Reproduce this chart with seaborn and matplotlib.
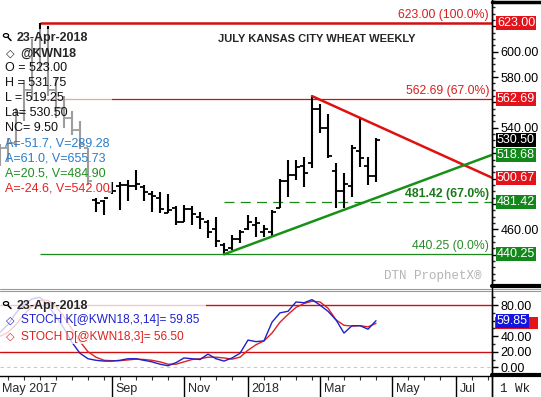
import numpy as np
import pandas as pd
import seaborn as sns
import matplotlib
matplotlib.use("Agg")
import matplotlib.pyplot as plt
from matplotlib.lines import Line2D
from matplotlib.patches import Rectangle, Circle
from matplotlib.ticker import MultipleLocator, FixedLocator, FixedFormatter
import matplotlib.transforms as mtransforms

# ---------------- data (weekly bars, x = weeks since 1-Jan-2018) ----------------
weeks = list(range(-31, 17))
highs = [527, 532, 556, 578, 610, 623, 620, 580, 565, 553, 545, 524,
         485, 483, 497.5, 497.5, 499, 507, 495, 490, 489, 488, 478, 479,
         478, 474, 467, 470, 449, 455.5, 459.5, 471, 470, 463.5, 475, 500,
         514.5, 514.5, 517, 565, 559, 551, 512, 504, 526.5, 547.5, 517, 531.75]
lows = [510, 513, 525, 545, 562, 585, 565, 548, 540, 534, 523, 495,
        474, 471, 488, 475, 482, 491, 482, 474, 473, 472.5, 463.5, 466,
        463.5, 460.5, 453, 446.3, 440.25, 443.7, 449, 459.4, 454, 454, 454, 476.5,
        485.7, 499, 493.6, 508, 535.7, 516, 476.5, 476.5, 485.7, 509.4, 495, 497]
opens = [512, 524, 528, 552, 570, 602, 590, 570, 556, 548, 538, 524,
         483, 482, 489, 494, 495, 494, 493, 488, 485, 473, 477, 466,
         476, 470, 466, 460, 448, 445, 452, 460, 463, 458, 458, 477,
         498, 503, 510, 512, 555, 540, 506, 490, 494, 522, 510, 502]
closes = [524, 528, 552, 570, 602, 590, 570, 556, 548, 538, 527, 498,
          481, 485, 490, 495, 494, 496, 489, 486, 476, 475, 466, 476,
          472, 468, 458, 451, 444, 452, 458, 466, 465, 460, 474, 498,
          503, 509, 504, 555, 540, 518, 490, 496, 524, 516, 502, 530.5]

stoch_k = [45, 55, 70, 80, 88, 90, 80, 65, 50, 32, 18, 11,
           9, 8, 8, 9, 11, 11, 9, 7, 4, 2, 6, 12,
           11, 10, 17, 11, 8, 12, 18, 35, 33, 34, 58, 70,
           72, 84, 83, 87, 80, 72, 61, 44, 53.5, 53.5, 49, 59.85]
stoch_d = [40, 45, 55, 68, 78, 86, 86, 78, 65, 49, 33, 20,
           13, 9, 8.5, 8.5, 9.5, 10.5, 10, 9, 7, 4, 4, 7,
           10, 11, 13, 13, 12, 10.5, 13, 22, 29, 34, 44, 58,
           68, 77, 82, 85, 84, 76, 61, 54, 53, 53.5, 52, 56.5]

fib_levels = [623.00, 562.69, 481.42, 440.25]
fib_labels = ["623.00 (100.0%)", "562.69 (67.0%)", "481.42 (67.0%)", "440.25 (0.0%)"]
fib_start = [-26, -26, -3, -26]

down_x = [8, 30.5]
down_y = [565.0, 500.67]
up_x = [-3, 30.5]
up_y = [440.25, 518.68]

price_tags = [("623.00", 623.00, "#e3131b"), ("562.69", 562.69, "#e3131b"),
              ("530.50", 530.50, "#000000"), ("518.68", 518.68, "#13881a"),
              ("500.67", 500.67, "#e3131b"), ("481.42", 481.42, "#13881a"),
              ("440.25", 440.25, "#13881a")]

price_ticks = [440, 460, 480, 500, 520, 540, 560, 580, 600, 620]
price_tick_labels = ["", "460.00", "", "", "", "540.00", "", "580.00", "600.00", ""]
stoch_ticks = [0, 20, 40, 60, 80]
stoch_tick_labels = ["0.00", "20.00", "40.00", "", "80.00"]

month_pos = [-35, -17, -8, 0, 9, 18, 26]
month_labels = ["May 2017", "Sep", "Nov", "2018", "Mar", "May", "Jul"]

info_lines = ["O = 523.00", "H = 531.75", "L = 519.25", "La= 530.50", "NC= 9.50"]
line_notes = [("A=-51.7, V=289.28", "#2a7cc8"), ("A=61.0, V=655.73", "#2a7cc8"),
              ("A=20.5, V=484.90", "#1f8f1f"), ("A=-24.6, V=542.00", "#e82020")]

# ---------------- style ----------------
sns.set_theme(style="white")
plt.rcParams["font.family"] = ["Liberation Sans", "DejaVu Sans"]

W, H = 541, 397
fig = plt.figure(figsize=(W / 100, H / 100), dpi=100)
fig.patch.set_facecolor("white")


def fx(px):
    return px / W


def fy(py):
    return 1 - py / H


XLIM = (-31, 30.5)
ax1 = fig.add_axes([0, fy(287), fx(492), 287 / H])
ax2 = fig.add_axes([0, fy(375), fx(492), (375 - 291) / H])
ax3 = fig.add_axes([0, 0, fx(492), (397 - 376) / H])

for ax in (ax1, ax2, ax3):
    ax.set_xlim(*XLIM)
    ax.set_facecolor("white")
    for s in ax.spines.values():
        s.set_visible(False)
    ax.spines["right"].set_visible(True)
    ax.spines["right"].set_color("black")
    ax.spines["right"].set_linewidth(1)

# ---------------- main price panel ----------------
ax1.set_ylim(414.5, 640.75)
w = np.array(weeks, dtype=float)
ax1.vlines(w, lows, highs, color="black", lw=1.5, zorder=3)
ax1.hlines(opens, w - 0.45, w, color="black", lw=1.3, zorder=3)
ax1.hlines(closes, w, w + 0.45, color="black", lw=1.3, zorder=3)

fib_colors = ["#d01010", "#d01010", "#1a8a1a", "#1a8a1a"]
fib_lw = [1.8, 0.9, 0.9, 0.9]
fib_ls = ["-", "-", (0, (8, 5)), "-"]
for lev, st, c, lw_, ls in zip(fib_levels, fib_start, fib_colors, fib_lw, fib_ls):
    ax1.hlines(lev, st, XLIM[1], color=c, lw=lw_, linestyles=[ls], zorder=2)

sns.lineplot(x=down_x, y=down_y, ax=ax1, color="#e01010", lw=1.8, zorder=4)
sns.lineplot(x=up_x, y=up_y, ax=ax1, color="#189018", lw=1.8, zorder=4)

lab_colors = ["#d42020", "#d42020", "#1a7a1a", "#2a8a2a"]
lab_weight = ["normal", "normal", "bold", "normal"]
for lev, lab, c, wt in zip(fib_levels, fib_labels, lab_colors, lab_weight):
    ax1.annotate(lab, xy=(1, lev), xycoords=("axes fraction", "data"),
                 xytext=(-3, 8), textcoords="offset pixels", ha="right", va="center",
                 fontsize=8.8, color=c, weight=wt, zorder=5)

ax1.yaxis.tick_right()
ax1.yaxis.set_major_locator(FixedLocator(price_ticks))
ax1.yaxis.set_major_formatter(FixedFormatter(price_tick_labels))
ax1.yaxis.set_minor_locator(MultipleLocator(5))
ax1.tick_params(axis="y", which="major", direction="out", length=4, width=1,
                labelsize=9, pad=2, colors="black", right=True)
ax1.tick_params(axis="y", which="minor", direction="out", length=2.5, width=1, right=True)
ax1.set_xticks([])

for txt, v, c in price_tags:
    ax1.annotate(txt, xy=(1, v), xycoords=("axes fraction", "data"),
                 xytext=(5, 0), textcoords="offset pixels", ha="left", va="center",
                 fontsize=9, color="white", zorder=6, annotation_clip=False,
                 bbox=dict(boxstyle="square,pad=0.08", fc=c, ec="none"))

# ---------------- stochastic panel ----------------
ax2.set_ylim(-9.9, 98.1)
ax2.axhline(80, color="#d01010", lw=1, zorder=1)
ax2.axhline(20, color="#d01010", lw=1, zorder=1)
ax2.axhline(0, color="#c8c8c8", lw=0.8, ls=(0, (3, 3)), zorder=1)
sns.lineplot(x=weeks, y=stoch_d, ax=ax2, color="#e02020", lw=1, zorder=3)
sns.lineplot(x=weeks, y=stoch_k, ax=ax2, color="#2020c8", lw=1, zorder=3)
ax2.yaxis.tick_right()
ax2.yaxis.set_major_locator(FixedLocator(stoch_ticks))
ax2.yaxis.set_major_formatter(FixedFormatter(stoch_tick_labels))
ax2.yaxis.set_minor_locator(MultipleLocator(10))
ax2.tick_params(axis="y", which="major", direction="out", length=4, width=1,
                labelsize=9, pad=2, colors="black", right=True)
ax2.tick_params(axis="y", which="minor", direction="out", length=2.5, width=1, right=True)
ax2.set_xticks([])
for a in (ax1, ax2):
    a.set_xlabel("")
    a.set_ylabel("")

# D value tag (hidden behind K tag in the reference: only a red strip shows)
blend2 = mtransforms.blended_transform_factory(ax2.transAxes, ax2.transData)
ax2.add_patch(Rectangle((1.006, stoch_d[-1] - 7.6), 0.088, 15.2, transform=blend2,
                        fc="#e3131b", ec="none", clip_on=False, zorder=6))
ax2.annotate("59.85", xy=(1, stoch_k[-1]), xycoords=("axes fraction", "data"),
             xytext=(5, 0), textcoords="offset pixels", ha="left", va="center",
             fontsize=9, color="white", zorder=7, annotation_clip=False,
             bbox=dict(boxstyle="square,pad=0.08", fc="#1515e0", ec="none"))

# ---------------- date strip ----------------
ax3.set_ylim(0, 1)
ax3.set_yticks([])
ax3.spines["top"].set_visible(True)
ax3.spines["top"].set_color("black")
ax3.spines["top"].set_linewidth(1)
ax3.xaxis.set_ticks_position("top")
ax3.set_xticks(np.arange(-30, 31, 2))
ax3.tick_params(axis="x", which="major", direction="in", length=3, width=0.8,
                labeltop=False, labelbottom=False, colors="#333333")
for p, lab in zip(month_pos, month_labels):
    if p >= XLIM[0]:
        ax3.axvline(p, color="black", lw=1)
        ax3.text(p + 0.45, 0.38, lab, ha="left", va="center", fontsize=9)
    else:
        ax3.text(XLIM[0] + 0.25, 0.38, lab, ha="left", va="center", fontsize=9)

fig.text(fx(500), fy(388.5), "1 Wk", ha="left", va="center", fontsize=9,
         family=["Liberation Mono", "DejaVu Sans Mono"], color="#222222")

# ---------------- overlays / decorations ----------------
fig.add_artist(Rectangle((0, fy(193)), fx(112), (193 - 29) / H, transform=fig.transFigure,
                         fc="white", ec="none", alpha=0.62, zorder=2))
fig.add_artist(Rectangle((0, fy(344)), fx(206), (344 - 292) / H, transform=fig.transFigure,
                         fc="white", ec="none", alpha=0.78, zorder=2))

fig.add_artist(Line2D([fx(492), 1], [fy(1.5), fy(1.5)], transform=fig.transFigure,
                      color="black", lw=2.5, zorder=5))
fig.add_artist(Line2D([fx(492), 1], [fy(285.5), fy(285.5)], transform=fig.transFigure,
                      color="black", lw=3, zorder=5))
fig.add_artist(Line2D([0, 1], [fy(289), fy(289)], transform=fig.transFigure,
                      color="#9a9a9a", lw=0.8, zorder=5))
fig.add_artist(Line2D([0, 1], [fy(291), fy(291)], transform=fig.transFigure,
                      color="#9a9a9a", lw=0.8, zorder=5))
fig.add_artist(Line2D([fx(492), 1], [fy(375), fy(375)], transform=fig.transFigure,
                      color="black", lw=3, zorder=5))
fig.add_artist(Line2D([fx(492), fx(492)], [0, 1], transform=fig.transFigure,
                      color="black", lw=1, zorder=5))


def magnifier(px, py):
    fig.add_artist(Circle((fx(px), fy(py)), 2.6 / W, transform=fig.transFigure,
                          fill=False, ec="black", lw=0.9, zorder=6))
    fig.add_artist(Line2D([fx(px + 2), fx(px + 5)], [fy(py + 2), fy(py + 5)],
                          transform=fig.transFigure, color="black", lw=1.1, zorder=6))


magnifier(6, 35.5)
fig.text(fx(17), fy(38.3), "23-Apr-2018", ha="left", va="center", fontsize=9,
         weight="bold", zorder=6)
fig.text(fx(6), fy(53.5), "\u25C7", ha="left", va="center", fontsize=8,
         weight="bold", zorder=6, family=["DejaVu Sans"])
fig.text(fx(20.5), fy(53.5), "@KWN18", ha="left", va="center", fontsize=9,
         weight="bold", zorder=6)
for i, t in enumerate(info_lines):
    fig.text(fx(5), fy(68.3 + 15 * i), t, ha="left", va="center", fontsize=9,
             zorder=6, color="#111111")
for i, (t, c) in enumerate(line_notes):
    fig.text(fx(5), fy(143.3 + 15 * i), t, ha="left", va="center", fontsize=9,
             zorder=6, color=c)

fig.text(fx(317), fy(38.5), "JULY KANSAS CITY WHEAT WEEKLY", ha="center", va="center",
         fontsize=8, weight="bold", zorder=6)

fig.text(fx(481), fy(276), "DTN ProphetX\u00AE", ha="right", va="center", fontsize=9,
         family=["Liberation Mono", "DejaVu Sans Mono"], color="#b4b4b4", zorder=6)

magnifier(6, 303.5)
fig.text(fx(17), fy(305.7), "23-Apr-2018", ha="left", va="center", fontsize=9,
         weight="bold", zorder=6)
fig.text(fx(6), fy(320.5), "\u25C7", ha="left", va="center", fontsize=8,
         color="#2020d0", zorder=6, family=["DejaVu Sans"])
fig.text(fx(21.4), fy(320.5), "STOCH K[@KWN18,3,14]= 59.85", ha="left", va="center",
         fontsize=8.6, color="#2020d0", zorder=6)
fig.text(fx(6), fy(337), "\u25C7", ha="left", va="center", fontsize=8,
         color="#e02020", zorder=6, family=["DejaVu Sans"])
fig.text(fx(21.4), fy(337), "STOCH D[@KWN18,3]= 56.50", ha="left", va="center",
         fontsize=8.6, color="#e02020", zorder=6)

fig.savefig("out.png", dpi=100, facecolor="white")
